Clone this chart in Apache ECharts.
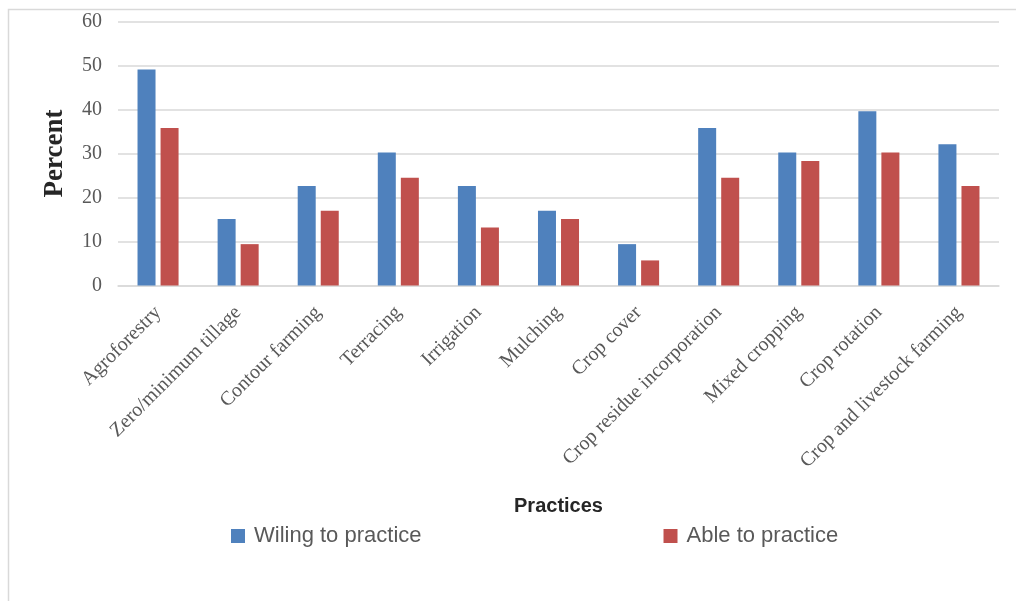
<!DOCTYPE html>
<html>
<head>
<meta charset="utf-8">
<script src="https://cdn.jsdelivr.net/npm/echarts@6/dist/echarts.min.js"></script>
<style>
  html, body { margin: 0; padding: 0; background: #fff; }
  #chart { width: 1016px; height: 601px; }
</style>
</head>
<body>
<div id="chart"></div>
<script>
// 実践項目（カテゴリー）
const practices = ['Agroforestry', 'Zero/minimum tillage', 'Contour farming', 'Terracing', 'Irrigation',
  'Mulching', 'Crop cover', 'Crop residue incorporation', 'Mixed cropping', 'Crop rotation',
  'Crop and livestock farming'];

// 系列の値（％）
const willing = [49.1, 15.1, 22.6, 30.2, 22.6, 17.0, 9.4, 35.8, 30.2, 39.6, 32.1];
const able = [35.8, 9.4, 17.0, 24.5, 13.2, 15.1, 5.7, 24.5, 28.3, 30.2, 22.6];

const seriesNames = ['Wiling to practice', 'Able to practice'];
const colors = ['#4f81bd', '#c0504d'];

const chart = echarts.init(document.getElementById('chart'));

chart.setOption({
  animation: false,
  grid: { left: 118, right: 17, top: 21.5, bottom: 315.5 },

  legend: {
    left: 226,
    top: 520,
    itemGap: 242,
    itemWidth: 14,
    itemHeight: 14,
    icon: 'rect',
    textStyle: { fontFamily: 'Liberation Sans', fontSize: 22, color: '#595959', padding: [0, 0, 0, 4] },
    data: seriesNames
  },

  xAxis: {
    type: 'category',
    data: practices,
    name: 'Practices',
    nameLocation: 'middle',
    nameGap: 211,
    nameTextStyle: { fontFamily: 'Liberation Sans', fontWeight: 'bold', fontSize: 20, color: '#262626' },
    axisLine: { lineStyle: { color: '#d9d9d9', width: 1.5 } },
    axisTick: { show: false },
    axisLabel: {
      rotate: 45,
      interval: 0,
      margin: 24,
      fontFamily: 'Liberation Serif',
      fontSize: 20,
      color: '#595959'
    }
  },

  yAxis: {
    type: 'value',
    min: 0,
    max: 60,
    interval: 10,
    name: 'Percent',
    nameLocation: 'middle',
    nameGap: 49,
    nameTextStyle: { fontFamily: 'Liberation Serif', fontWeight: 'bold', fontSize: 27, color: '#262626' },
    axisLine: { show: false },
    axisTick: { show: false },
    axisLabel: { margin: 16, fontFamily: 'Liberation Serif', fontSize: 20, color: '#595959' },
    splitLine: { lineStyle: { color: '#d9d9d9', width: 1.5 } }
  },

  series: [
    { name: seriesNames[0], type: 'bar', data: willing, barWidth: 18, barGap: '28%', itemStyle: { color: colors[0] } },
    { name: seriesNames[1], type: 'bar', data: able, barWidth: 18, barGap: '28%', itemStyle: { color: colors[1] } }
  ],

  // 外枠
  graphic: [
    {
      type: 'rect',
      shape: { x: 8.5, y: 9.5, width: 1020, height: 600 },
      style: { fill: 'none', stroke: '#d9d9d9', lineWidth: 1.5 },
      silent: true
    }
  ]
});
</script>
</body>
</html>
